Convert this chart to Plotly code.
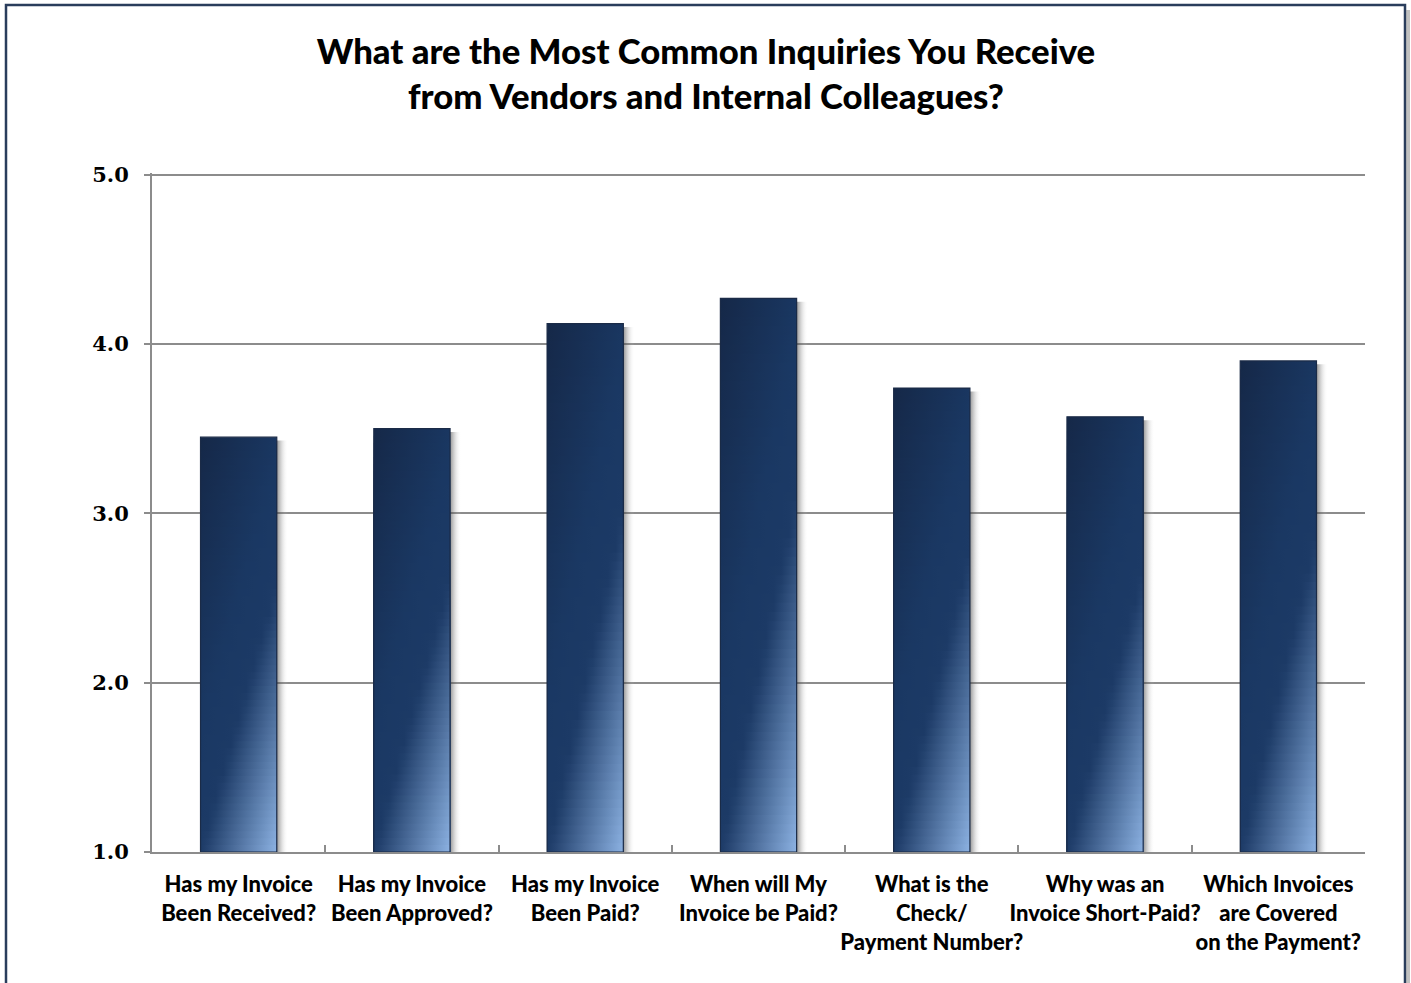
import plotly.graph_objects as go

# ---------------- data ----------------
categories = [
    "Has my Invoice<br>Been Received?",
    "Has my Invoice<br>Been Approved?",
    "Has my Invoice<br>Been Paid?",
    "When will My<br>Invoice be Paid?",
    "What is the<br>Check/<br>Payment Number?",
    "Why was an<br>Invoice Short-Paid?",
    "Which Invoices<br>are Covered<br>on the Payment?",
]
values = [3.45, 3.50, 4.12, 4.27, 3.74, 3.57, 3.90]
y_tick_values = [1.0, 2.0, 3.0, 4.0, 5.0]
title_text = "What are the Most Common Inquiries You Receive<br>from Vendors and Internal Colleagues?"

# ---------------- style ----------------
BASE = 1.0
Y_TOP = 5.01
HALF = 0.22          # half bar width in category units
N_SLICES = 60
A = 0.64             # weight of horizontal position in diagonal gradient
STOPS = [
    (0.00, (0x15, 0x28, 0x48)),
    (0.70, (0x1a, 0x38, 0x63)),
    (1.00, (0x1c, 0x3a, 0x66)),
    (1.64, (0x8c, 0xb2, 0xe2)),
]
GRID = "#8c8c8c"
TEXT_FONT = "Lato"


def color_at(t):
    if t <= STOPS[0][0]:
        c = STOPS[0][1]
    elif t >= STOPS[-1][0]:
        c = STOPS[-1][1]
    else:
        for (t0, c0), (t1, c1) in zip(STOPS[:-1], STOPS[1:]):
            if t0 <= t <= t1:
                f = (t - t0) / (t1 - t0)
                c = tuple(round(a + (b - a) * f) for a, b in zip(c0, c1))
                break
    return "rgb(%d,%d,%d)" % c


fig = go.Figure()
xs = list(range(len(categories)))

# shadows
for x, v in zip(xs, values):
    x0, x1 = x + HALF, x + HALF + 0.065
    ytop = v - 0.02
    fig.add_trace(go.Scatter(
        x=[x0 - 0.01, x1, x1, x0 - 0.01, x0 - 0.01],
        y=[BASE, BASE, ytop, ytop, BASE],
        mode="lines", line=dict(width=0), fill="toself",
        fillgradient=dict(type="horizontal", start=x0, stop=x1,
                          colorscale=[[0, "rgba(60,60,60,0.55)"], [0.5, "rgba(120,120,120,0.2)"],
                                      [1, "rgba(255,255,255,0)"]]),
        hoverinfo="skip", showlegend=False))

# bars: diagonal gradient built from stacked slices
for x, v in zip(xs, values):
    h = v - BASE
    x0, x1 = x - HALF, x + HALF
    for k in range(N_SLICES):
        ytop = v - h * k / N_SLICES
        vmid = (k + 0.5) / N_SLICES
        cs = []
        for j in range(11):
            u = j / 10
            cs.append([u, color_at(A * u + vmid)])
        fig.add_trace(go.Scatter(
            x=[x0, x1, x1, x0, x0],
            y=[BASE, BASE, ytop, ytop, BASE],
            mode="lines", line=dict(width=0), fill="toself",
            fillgradient=dict(type="horizontal", start=x0, stop=x1, colorscale=cs),
            hoverinfo="skip", showlegend=False))
    # outline
    fig.add_trace(go.Scatter(
        x=[x0, x1, x1, x0, x0], y=[BASE, BASE, v, v, BASE],
        mode="lines", line=dict(width=1.2, color="#1b2b47"),
        hoverinfo="skip", showlegend=False))

# invisible trace on xaxis2 (boundary ticks)
fig.add_trace(go.Scatter(x=[-0.5, 6.5], y=[BASE, BASE], xaxis="x2", mode="markers",
                         marker=dict(opacity=0), hoverinfo="skip", showlegend=False))

fig.update_layout(
    width=1411, height=983,
    margin=dict(l=152, r=46, t=173, b=131),
    paper_bgcolor="white", plot_bgcolor="white",
    showlegend=False,
    title=dict(text=title_text, x=706 / 1411, xref="container", xanchor="center",
               y=1 - 64 / 983, yref="container", yanchor="top",
               font=dict(family=TEXT_FONT, size=34.7, color="black", weight=900)),
    xaxis=dict(range=[-0.5, len(categories) - 0.5], tickvals=xs,
               ticktext=categories, tickangle=0, automargin=False,
               tickfont=dict(family=TEXT_FONT, size=22, color="black", weight=900),
               ticks="", showgrid=False, zeroline=False,
               showline=True, linecolor=GRID, linewidth=2, ticklabelstandoff=12),
    xaxis2=dict(range=[-0.5, len(categories) - 0.5], overlaying="x",
                tickvals=[i - 0.5 for i in range(len(categories) + 1)],
                ticks="inside", ticklen=7, tickwidth=1.5, tickcolor=GRID,
                showticklabels=False, showgrid=False, zeroline=False, showline=False,
                side="bottom", automargin=False),
    yaxis=dict(range=[BASE, Y_TOP], tickvals=y_tick_values, automargin=False,
               ticktext=["%.1f" % t for t in y_tick_values],
               tickfont=dict(family="DejaVu Serif", size=21, color="black", weight="bold"),
               ticks="outside", ticklen=6, tickwidth=1.5, tickcolor=GRID,
               showgrid=True, gridcolor=GRID, gridwidth=1.5, zeroline=False,
               showline=True, linecolor=GRID, linewidth=2, ticklabelstandoff=11),
)

# outer frame (paper coords relative to the plot area: 1213 x 679 px, bottom at 852 px)
PW, PH, PB, PL = 1213, 679, 852, 152
fig.add_shape(type="rect", xref="paper", yref="paper",
              x0=(6 - PL) / PW, x1=(1405 - PL) / PW,
              y0=(PB - 1000) / PH, y1=(PB - 5) / PH,
              line=dict(color="#2a3d5c", width=2.5), layer="below")
fig.add_shape(type="line", xref="paper", yref="paper",
              x0=(1408 - PL) / PW, x1=(1408 - PL) / PW,
              y0=(PB - 1000) / PH, y1=(PB - 10) / PH,
              line=dict(color="rgba(150,150,150,0.6)", width=4), layer="below")

fig.write_html("out.html")
